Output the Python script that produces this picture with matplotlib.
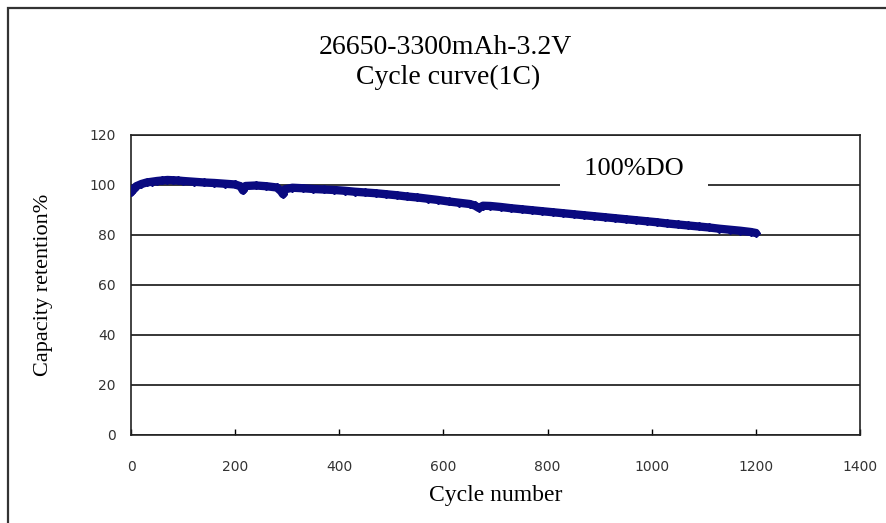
import matplotlib.pyplot as plt
from matplotlib.patches import Rectangle

# capacity retention
cycles = [0, 5, 10, 20, 30, 40, 50, 60, 70, 80, 90, 100, 120, 140, 160, 180,
          200, 210, 215, 220, 240, 260, 280, 288, 292, 296, 310, 330, 350, 370,
          390, 410, 430, 450, 470, 490, 510, 530, 550, 570, 590, 610, 630, 650,
          660, 668, 676, 690, 710, 730, 750, 770, 790, 810, 830, 850, 870, 890,
          910, 930, 950, 970, 990, 1010, 1030, 1050, 1070, 1090, 1110, 1130,
          1150, 1170, 1190, 1200]
retention = [97.0, 98.5, 99.5, 100.4, 101.0, 101.3, 101.6, 101.8, 102.0, 101.9,
             101.8, 101.6, 101.3, 101.0, 100.8, 100.5, 100.2, 99.5, 97.8, 99.6,
             99.8, 99.5, 99.0, 97.5, 96.3, 98.3, 98.9, 98.7, 98.4, 98.2, 98.0,
             97.7, 97.3, 97.0, 96.7, 96.3, 95.9, 95.4, 95.0, 94.5, 94.0, 93.4,
             92.9, 92.4, 91.8, 90.8, 91.7, 91.6, 91.2, 90.7, 90.3, 89.9, 89.5,
             89.1, 88.7, 88.3, 87.9, 87.5, 87.1, 86.7, 86.3, 85.9, 85.5, 85.1,
             84.6, 84.2, 83.8, 83.4, 83.0, 82.5, 82.1, 81.7, 81.2, 80.8]

x_ticks = [0, 200, 400, 600, 800, 1000, 1200, 1400]
y_ticks = [0, 20, 40, 60, 80, 100, 120]

SERIF = "Liberation Serif"
NAVY = "#0a0a80"

fig = plt.figure(figsize=(8.86, 5.23), dpi=100)
ax = fig.add_axes([0.1479, 0.1683, 0.8228, 0.5736])

# outer chart frame
fig.patches.append(Rectangle((8 / 886, -0.05), 1.2, 1.05 - 8 / 523,
                             transform=fig.transFigure, fill=False,
                             edgecolor="#333333", linewidth=1.6))

ax.plot(cycles, retention, color=NAVY, linewidth=6, marker="D",
        markersize=4, zorder=4, solid_capstyle="round")

ax.set_xlim(0, 1400)
ax.set_ylim(0, 120)
ax.set_xticks(x_ticks)
ax.set_yticks(y_ticks)
ax.set_axisbelow(True)
ax.yaxis.grid(True, color="black", linewidth=1.1)
ax.tick_params(axis="x", direction="in", length=4, width=1, pad=18,
               labelsize=10, labelcolor="#333333")
ax.tick_params(axis="y", length=0, pad=11, labelsize=10, labelcolor="#333333")
for sp in ax.spines.values():
    sp.set_linewidth(1.2)
    sp.set_color("#222222")

ax.set_xlabel("Cycle number", fontfamily=SERIF, fontsize=17, labelpad=8)
ax.set_ylabel("Capacity retention%", fontfamily=SERIF, fontsize=16, labelpad=26)

ax.text(966, 106.5, "  100%DO  ", fontfamily=SERIF, fontsize=19,
        ha="center", va="center", zorder=3,
        bbox=dict(facecolor="white", edgecolor="none", pad=8))

fig.text(0.503, 0.910, "26650-3300mAh-3.2V", fontfamily=SERIF, fontsize=20,
         ha="center", va="center")
fig.text(0.506, 0.852, "Cycle curve(1C)", fontfamily=SERIF, fontsize=20,
         ha="center", va="center")

fig.savefig("out.png", dpi=100)
